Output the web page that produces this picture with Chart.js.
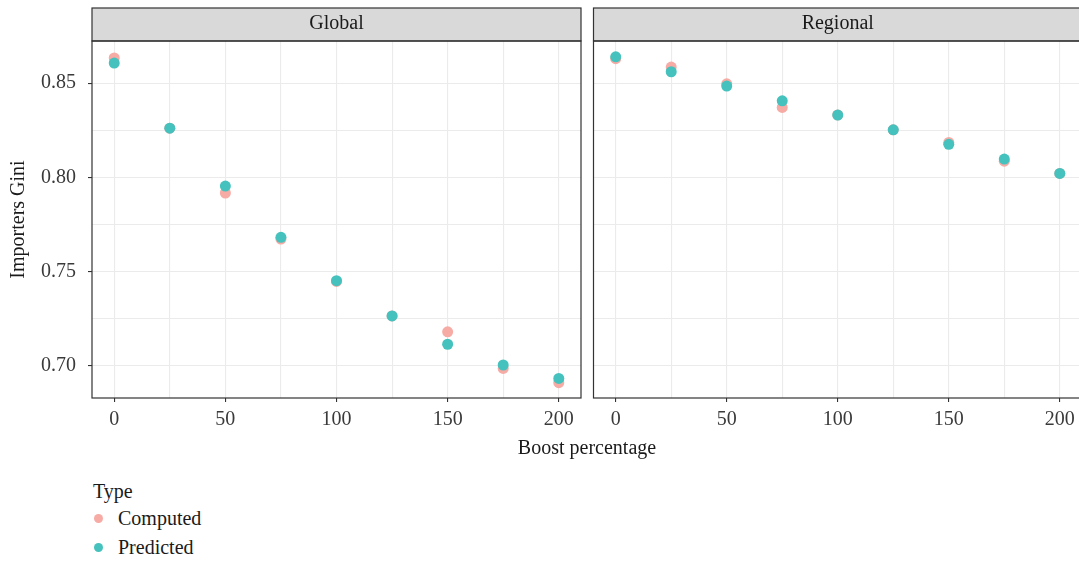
<!DOCTYPE html>
<html>
<head>
<meta charset="utf-8">
<script src="https://cdn.jsdelivr.net/npm/chart.js@4/dist/chart.umd.min.js"></script>
<style>
  html, body { margin: 0; padding: 0; overflow: hidden; background: #fff; }
  body { width: 1079px; height: 563px; position: relative; font-family: "Liberation Serif", serif; color: #1a1a1a; }
  canvas { position: absolute; top: 0; }
  #globalChart { left: 0; }
  #regionalChart { left: 588px; }
  #xTitle { position: absolute; left: 0; width: 1174px; top: 435px; text-align: center; font-size: 20px; line-height: 24px; }
  #legend { position: absolute; left: 93px; top: 478px; font-size: 20px; }
  #legend .ltitle { height: 26px; line-height: 26px; }
  #legend .item { height: 29px; line-height: 29px; position: relative; padding-left: 25px; }
  #legend .dot { position: absolute; left: 1px; top: 10px; width: 9px; height: 9px; border-radius: 50%; }
</style>
</head>
<body>
<canvas id="globalChart" width="588" height="440"></canvas>
<canvas id="regionalChart" width="520" height="440"></canvas>
<div id="xTitle">Boost percentage</div>
<div id="legend"></div>
<script>
// data
const boost = [0, 25, 50, 75, 100, 125, 150, 175, 200];
const globalComputed = [0.8633, 0.8261, 0.7917, 0.7673, 0.7448, 0.7265, 0.7181, 0.6987, 0.6911];
const globalPredicted = [0.8606, 0.8261, 0.7954, 0.7682, 0.7452, 0.7265, 0.7115, 0.7005, 0.6934];
const regionalComputed = [0.8629, 0.8585, 0.8496, 0.8371, 0.8331, 0.8252, 0.8185, 0.8086, 0.8021];
const regionalPredicted = [0.8639, 0.8560, 0.8484, 0.8406, 0.8330, 0.8252, 0.8175, 0.8097, 0.8021];

const seriesNames = ['Computed', 'Predicted'];
const seriesColors = ['#F7ABA5', '#45C2BD'];

const xGrid = [0, 25, 50, 75, 100, 125, 150, 175, 200];
const xLabels = [0, 50, 100, 150, 200];
const yGrid = [0.70, 0.725, 0.75, 0.775, 0.80, 0.825, 0.85];
const yLabels = [0.70, 0.75, 0.80, 0.85];

const FONT = '"Liberation Serif", serif';
const isLabel = (list, v) => list.some(l => Math.abs(l - v) < 1e-9);

// strip on top + frame round the panel
const facetFrame = {
  id: 'facetFrame',
  beforeDraw(chart) {
    const { ctx, chartArea: a } = chart;
    ctx.save();
    ctx.fillStyle = '#D9D9D9';
    ctx.fillRect(a.left, a.top - 33, a.right - a.left, 33);
    ctx.restore();
  },
  afterDraw(chart) {
    const { ctx, chartArea: a } = chart;
    ctx.save();
    ctx.strokeStyle = '#333333';
    ctx.lineWidth = 1.2;
    ctx.strokeRect(a.left, a.top - 33, a.right - a.left, 33);
    ctx.strokeRect(a.left, a.top, a.right - a.left, a.bottom - a.top);
    ctx.restore();
  }
};

function makePanel(id, title, computed, predicted, showY, padRight) {
  const toPts = vals => boost.map((b, i) => ({ x: b, y: vals[i] }));
  return new Chart(document.getElementById(id), {
    type: 'scatter',
    data: {
      datasets: [
        { label: seriesNames[0], data: toPts(computed), backgroundColor: seriesColors[0], order: 2 },
        { label: seriesNames[1], data: toPts(predicted), backgroundColor: seriesColors[1], order: 1 }
      ]
    },
    options: {
      responsive: false,
      animation: false,
      layout: { padding: { top: 8, right: padRight, left: 0, bottom: 0 } },
      elements: { point: { radius: 5.5, borderWidth: 0, hoverRadius: 5.5 } },
      plugins: {
        legend: { display: false },
        tooltip: { enabled: false },
        title: {
          display: true,
          text: title,
          fullSize: false,
          color: '#1a1a1a',
          font: { family: FONT, size: 20, weight: 'normal', lineHeight: 1.2 },
          padding: { top: 4, bottom: 5 }
        }
      },
      scales: {
        x: {
          type: 'linear',
          min: -10,
          max: 210,
          afterBuildTicks: s => { s.ticks = xGrid.map(v => ({ value: v })); },
          afterFit: s => { s.height = 42; },
          border: { display: false },
          grid: {
            color: '#EBEBEB',
            lineWidth: 1.1,
            tickLength: 4,
            tickColor: c => isLabel(xLabels, c.tick.value) ? '#333333' : 'rgba(0,0,0,0)'
          },
          ticks: {
            autoSkip: false,
            maxRotation: 0,
            minRotation: 0,
            padding: 6,
            color: '#3a3a3a',
            font: { family: FONT, size: 20 },
            callback: v => isLabel(xLabels, v) ? String(v) : ''
          }
        },
        y: {
          type: 'linear',
          min: 0.683,
          max: 0.8723,
          afterBuildTicks: s => { s.ticks = yGrid.map(v => ({ value: v })); },
          afterFit: s => { s.width = showY ? 92 : 5; },
          border: { display: false },
          title: {
            display: showY,
            text: 'Importers Gini',
            color: '#1a1a1a',
            font: { family: FONT, size: 20 },
            padding: { top: 7, bottom: 0 }
          },
          grid: {
            color: '#EBEBEB',
            lineWidth: 1.1,
            drawTicks: showY,
            tickLength: 4,
            tickColor: c => isLabel(yLabels, c.tick.value) ? '#333333' : 'rgba(0,0,0,0)'
          },
          ticks: {
            display: showY,
            autoSkip: false,
            padding: 12,
            color: '#3a3a3a',
            font: { family: FONT, size: 20 },
            callback: v => isLabel(yLabels, v) ? v.toFixed(2) : ''
          }
        }
      }
    },
    plugins: [facetFrame]
  });
}

makePanel('globalChart', 'Global', globalComputed, globalPredicted, true, 7);
makePanel('regionalChart', 'Regional', regionalComputed, regionalPredicted, false, 26);

// legend
const legend = document.getElementById('legend');
legend.innerHTML = '<div class="ltitle">Type</div>' + seriesNames.map((n, i) =>
  `<div class="item"><span class="dot" style="background:${seriesColors[i]}"></span>${n}</div>`).join('');
</script>
</body>
</html>
